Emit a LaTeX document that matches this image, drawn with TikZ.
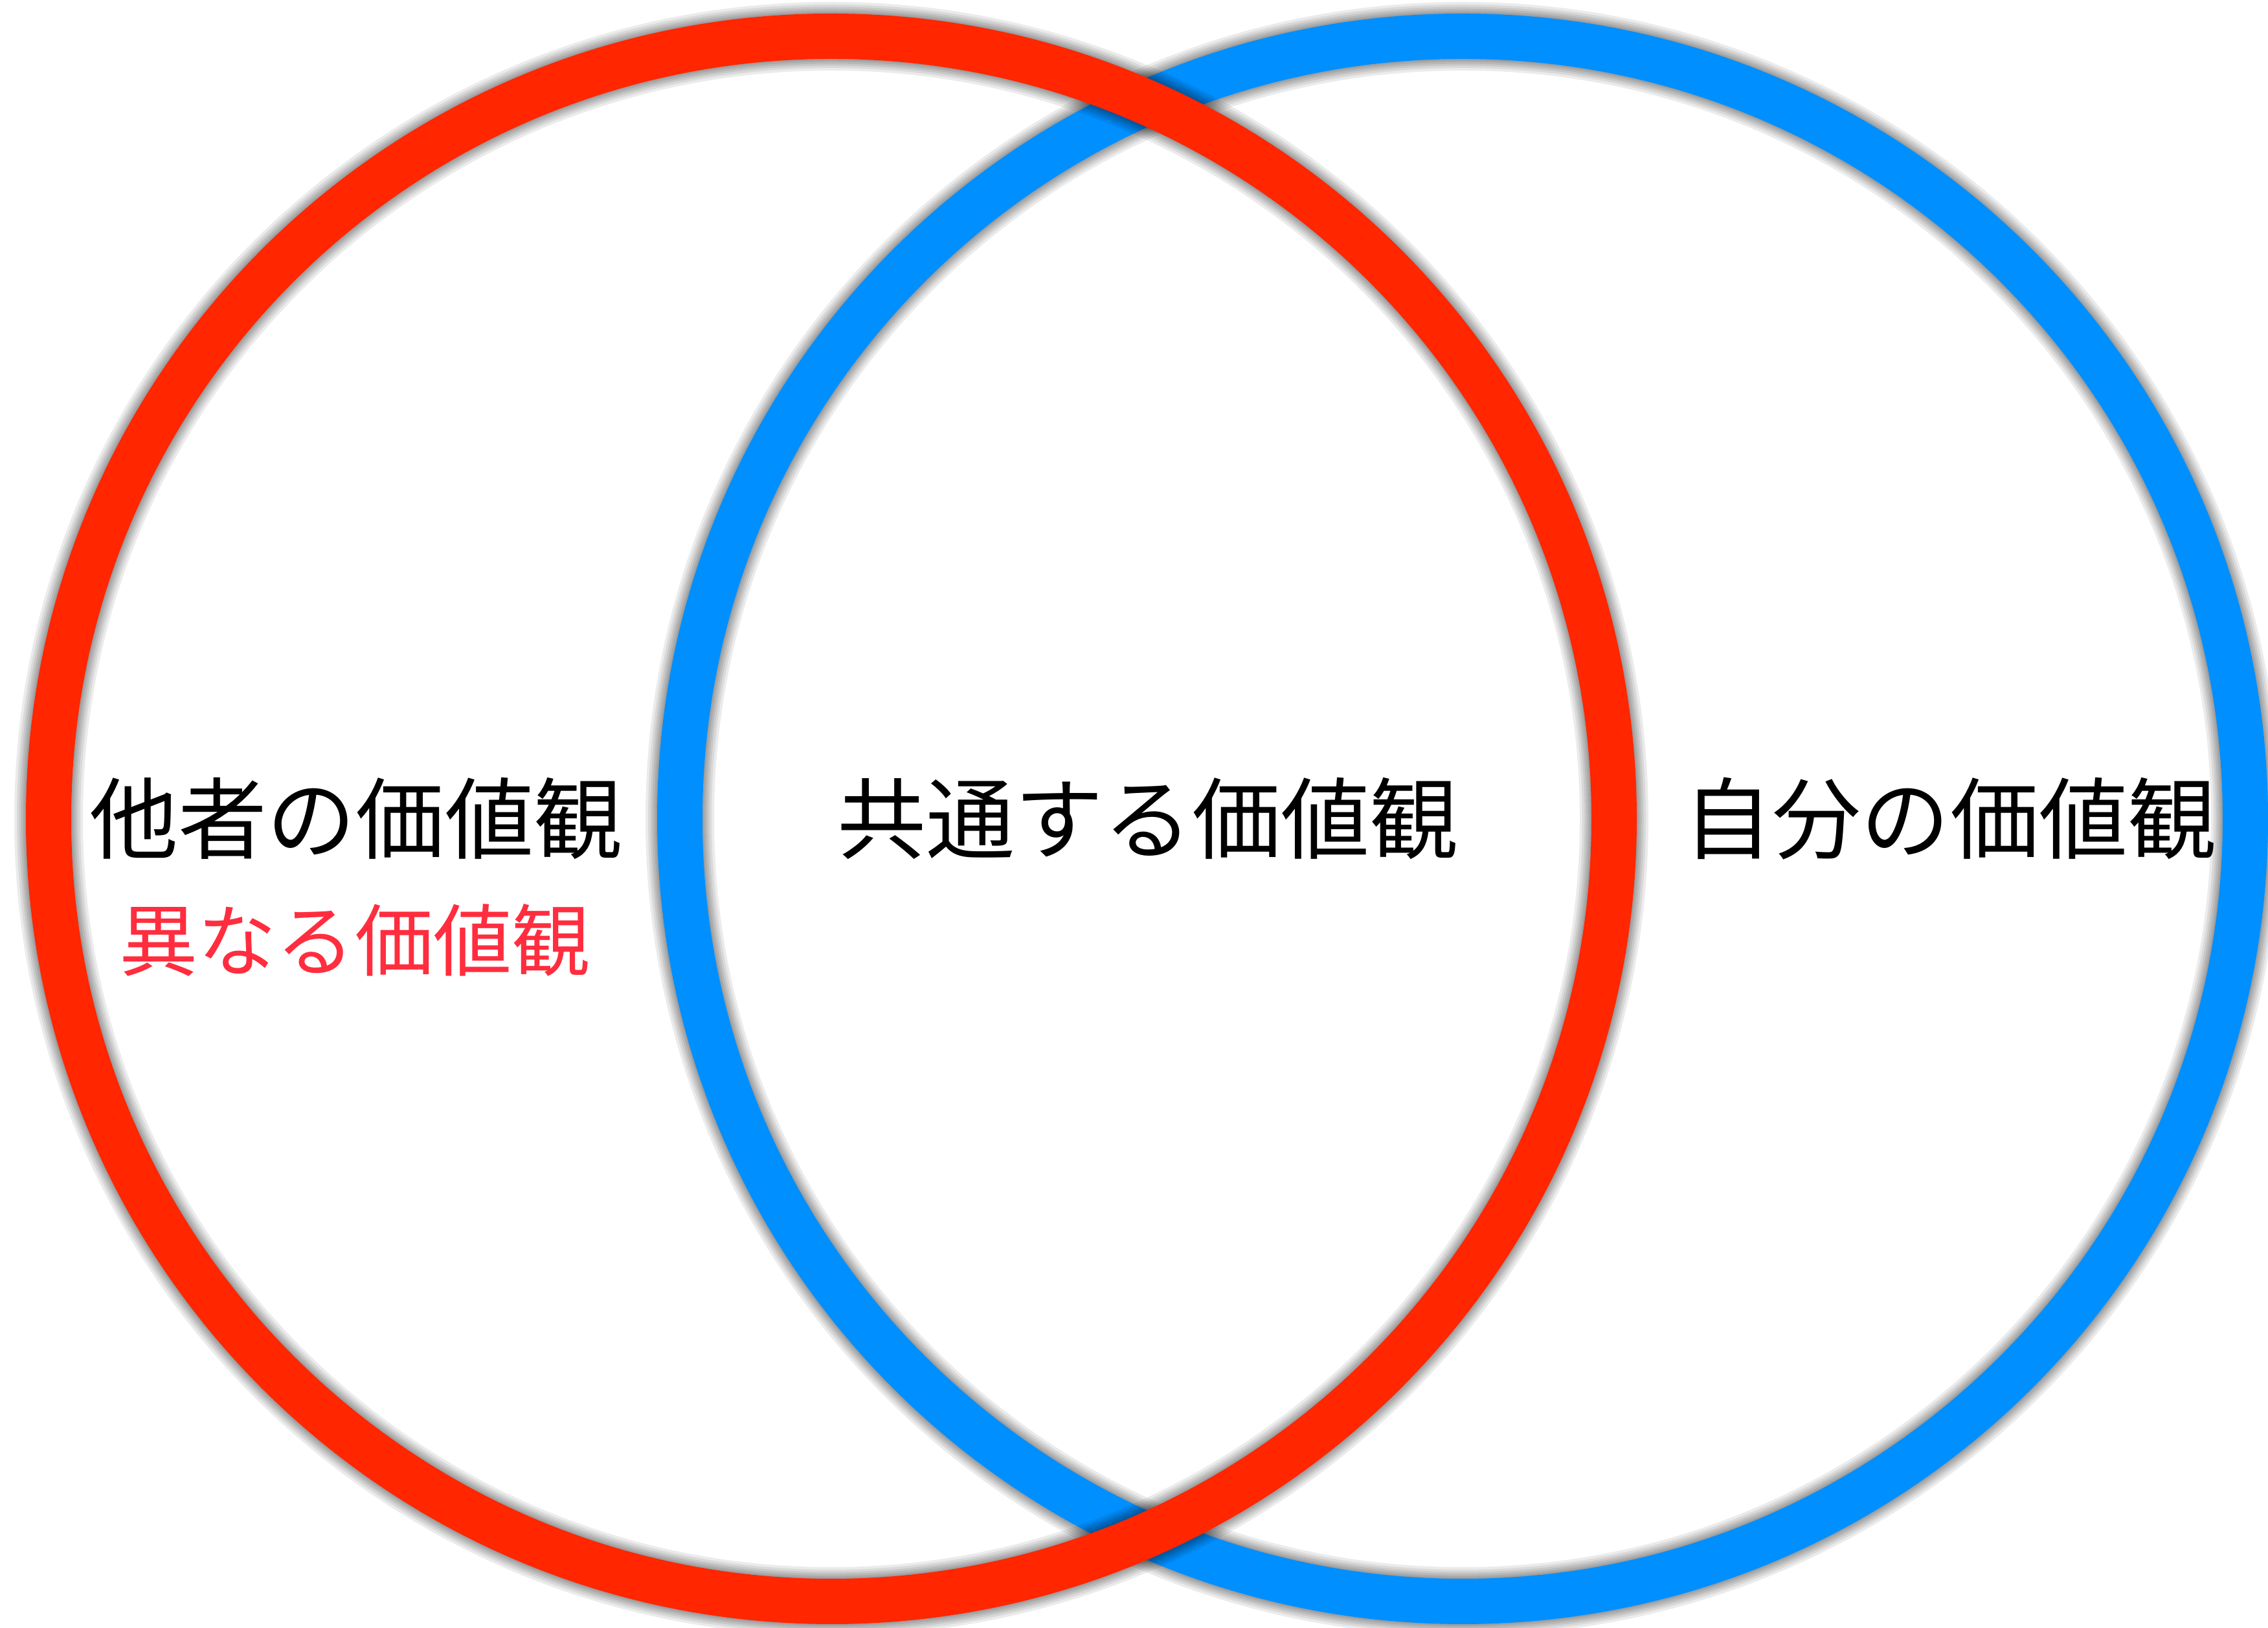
\documentclass[tikz,border=0pt]{standalone}
\usepackage{fontspec}
\setmainfont{Noto Sans CJK JP}
\usetikzlibrary{positioning}
\definecolor{ringred}{RGB}{255,38,0}
\definecolor{ringblue}{RGB}{0,143,255}
\definecolor{textred}{RGB}{255,45,62}

\begin{document}
\begin{tikzpicture}[
    ring/.style={line width=0.70cm},
    halo/.style={black, opacity=0.08},
    label/.style={font=\fontsize{39}{47}\selectfont, inner sep=0pt},
    sublabel/.style={font=\fontsize{34.5}{41}\selectfont, inner sep=0pt, text=textred}
  ]
  \useasboundingbox (0,0) rectangle (35.03,25.15);
  \coordinate (red c) at (12.84,12.50);
  \coordinate (blue c) at (22.59,12.50);

  % blue ring with its shadow
  \foreach \w in {1.06,0.98,0.91,0.85,0.79,0.74}
    \draw[halo, line width=\w cm] (blue c) circle (12.09);
  \draw[ring, ringblue] (blue c) circle (12.09);

  % red ring on top
  \foreach \w in {1.06,0.98,0.91,0.85,0.79,0.74}
    \draw[halo, line width=\w cm] (red c) circle (12.09);
  \draw[ring, ringred] (red c) circle (12.09);

  \draw (5.50,12.50) node [label] (other) {他者の価値観};
  \draw (5.48,10.62) node [sublabel] (diff) {異なる価値観};
  \draw (17.73,12.50) node [label] (common) {共通する価値観};
  \draw (30.12,12.50) node [label] (self) {自分の価値観};
\end{tikzpicture}
\end{document}
